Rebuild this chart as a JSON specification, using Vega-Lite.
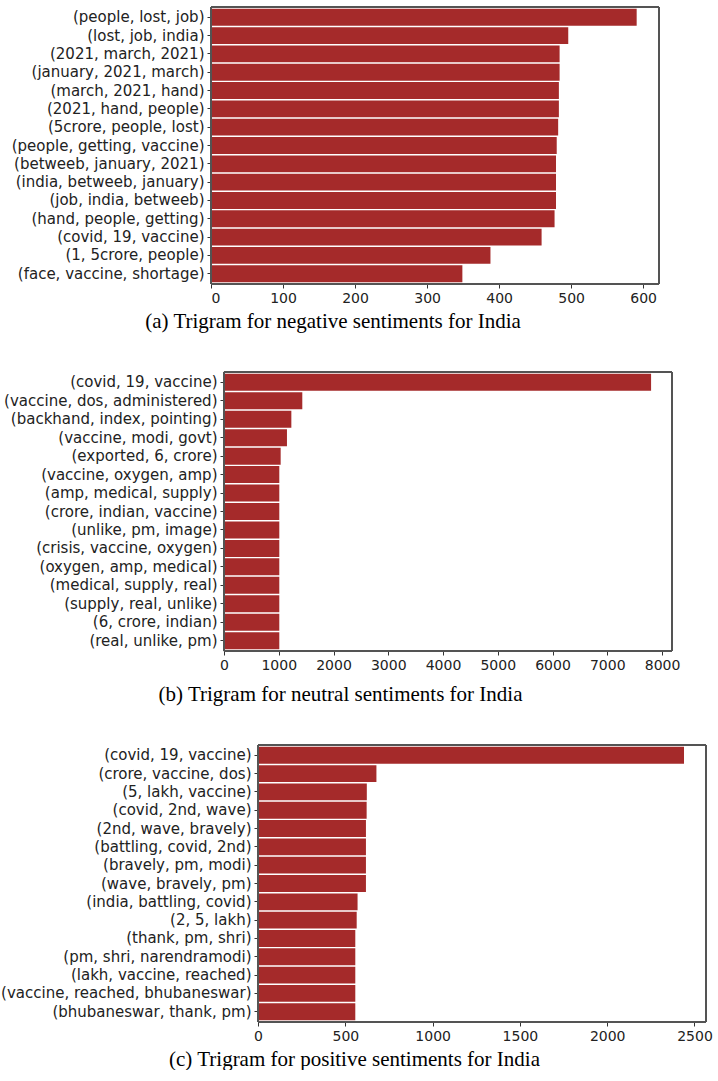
{
  "$schema": "https://vega.github.io/schema/vega-lite/v6.json",
  "padding": {"top": 6, "left": 0, "right": 0, "bottom": 0},
  "background": "white",
  "spacing": 39,
  "datasets": {
    "neg": [
      {"trigram": "(people, lost, job)", "count": 591},
      {"trigram": "(lost, job, india)", "count": 496},
      {"trigram": "(2021, march, 2021)", "count": 484},
      {"trigram": "(january, 2021, march)", "count": 484},
      {"trigram": "(march, 2021, hand)", "count": 483},
      {"trigram": "(2021, hand, people)", "count": 483},
      {"trigram": "(5crore, people, lost)", "count": 482},
      {"trigram": "(people, getting, vaccine)", "count": 480},
      {"trigram": "(betweeb, january, 2021)", "count": 479},
      {"trigram": "(india, betweeb, january)", "count": 479},
      {"trigram": "(job, india, betweeb)", "count": 479},
      {"trigram": "(hand, people, getting)", "count": 477},
      {"trigram": "(covid, 19, vaccine)", "count": 459},
      {"trigram": "(1, 5crore, people)", "count": 388},
      {"trigram": "(face, vaccine, shortage)", "count": 349}
    ],
    "neu": [
      {"trigram": "(covid, 19, vaccine)", "count": 7800},
      {"trigram": "(vaccine, dos, administered)", "count": 1430},
      {"trigram": "(backhand, index, pointing)", "count": 1230},
      {"trigram": "(vaccine, modi, govt)", "count": 1150},
      {"trigram": "(exported, 6, crore)", "count": 1035},
      {"trigram": "(vaccine, oxygen, amp)", "count": 1010},
      {"trigram": "(amp, medical, supply)", "count": 1010},
      {"trigram": "(crore, indian, vaccine)", "count": 1010},
      {"trigram": "(unlike, pm, image)", "count": 1010},
      {"trigram": "(crisis, vaccine, oxygen)", "count": 1010},
      {"trigram": "(oxygen, amp, medical)", "count": 1010},
      {"trigram": "(medical, supply, real)", "count": 1010},
      {"trigram": "(supply, real, unlike)", "count": 1010},
      {"trigram": "(6, crore, indian)", "count": 1010},
      {"trigram": "(real, unlike, pm)", "count": 1010}
    ],
    "pos": [
      {"trigram": "(covid, 19, vaccine)", "count": 2440},
      {"trigram": "(crore, vaccine, dos)", "count": 678},
      {"trigram": "(5, lakh, vaccine)", "count": 623},
      {"trigram": "(covid, 2nd, wave)", "count": 622},
      {"trigram": "(2nd, wave, bravely)", "count": 618},
      {"trigram": "(battling, covid, 2nd)", "count": 618},
      {"trigram": "(bravely, pm, modi)", "count": 618},
      {"trigram": "(wave, bravely, pm)", "count": 618},
      {"trigram": "(india, battling, covid)", "count": 570},
      {"trigram": "(2, 5, lakh)", "count": 565},
      {"trigram": "(thank, pm, shri)", "count": 557},
      {"trigram": "(pm, shri, narendramodi)", "count": 557},
      {"trigram": "(lakh, vaccine, reached)", "count": 557},
      {"trigram": "(vaccine, reached, bhubaneswar)", "count": 557},
      {"trigram": "(bhubaneswar, thank, pm)", "count": 557}
    ]
  },
  "config": {
    "view": {"stroke": null},
    "axis": {
      "domain": false,
      "grid": false,
      "tickColor": "#333333",
      "tickSize": 4,
      "labelFont": "DejaVu Sans",
      "labelFontSize": 14,
      "labelColor": "#222222",
      "labelPadding": 3,
      "labelLimit": 0,
      "title": null
    },
    "axisY": {"labelFontSize": 15, "minExtent": 211, "maxExtent": 211},
    "axisX": {"format": "d"},
    "title": {
      "font": "Liberation Serif",
      "fontSize": 21,
      "fontWeight": "normal",
      "color": "#000000",
      "orient": "bottom",
      "frame": "group",
      "offset": 6
    },
    "bar": {"color": "#A52A2A"}
  },
  "vconcat": [
    {
      "title": {"text": "(a)  Trigram for negative sentiments for India", "dx": -102},
      "width": 448,
      "height": 277,
      "data": {"name": "neg"},
      "encoding": {
        "y": {"field": "trigram", "type": "nominal", "sort": null,
              "scale": {"paddingInner": 0.08, "paddingOuter": 0.1}},
        "x": {"field": "count", "type": "quantitative",
              "scale": {"domain": [0, 622], "nice": false, "zero": false},
              "axis": {"values": [0, 100, 200, 300, 400, 500, 600]}}
      },
      "layer": [
        {"mark": {"type": "bar"}},
        {"mark": {"type": "rect", "fill": null, "stroke": "#555555", "strokeWidth": 1},
         "encoding": {"y": null, "x": {"datum": 0}, "x2": {"datum": 622}}}
      ]
    },
    {
      "title": {"text": "(b)  Trigram for neutral sentiments for India", "dx": -101, "offset": 12},
      "width": 461,
      "height": 279,
      "data": {"name": "neu"},
      "encoding": {
        "y": {"field": "trigram", "type": "nominal", "sort": null,
              "scale": {"paddingInner": 0.08, "paddingOuter": 0.1},
              "axis": {"offset": -13}},
        "x": {"field": "count", "type": "quantitative",
              "scale": {"domain": [-237.4, 8182], "nice": false, "zero": false},
              "axis": {"values": [0, 1000, 2000, 3000, 4000, 5000, 6000, 7000, 8000]}}
      },
      "layer": [
        {"mark": {"type": "bar"}},
        {"mark": {"type": "rect", "fill": null, "stroke": "#555555", "strokeWidth": 1},
         "encoding": {"y": null, "x": {"datum": 0}, "x2": {"datum": 8182}}}
      ]
    },
    {
      "title": {"text": "(c)  Trigram for positive sentiments for India", "dx": -104},
      "width": 495,
      "height": 277,
      "data": {"name": "pos"},
      "encoding": {
        "y": {"field": "trigram", "type": "nominal", "sort": null,
              "scale": {"paddingInner": 0.08, "paddingOuter": 0.1},
              "axis": {"offset": -47}},
        "x": {"field": "count", "type": "quantitative",
              "scale": {"domain": [-269.6, 2566], "nice": false, "zero": false},
              "axis": {"values": [0, 500, 1000, 1500, 2000, 2500]}}
      },
      "layer": [
        {"mark": {"type": "bar"}},
        {"mark": {"type": "rect", "fill": null, "stroke": "#555555", "strokeWidth": 1},
         "encoding": {"y": null, "x": {"datum": 0}, "x2": {"datum": 2566}}}
      ]
    }
  ]
}
